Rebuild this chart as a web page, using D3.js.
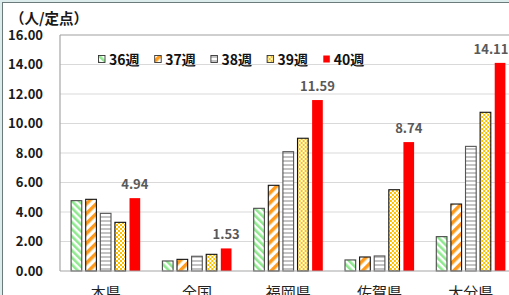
<!DOCTYPE html>
<html><head><meta charset="utf-8">
<script src="https://cdn.jsdelivr.net/npm/d3@7"></script>
<style>
html,body{margin:0;padding:0;background:#dcecec;}
svg{display:block;}
</style></head>
<body>
<svg id="c" width="509" height="295"></svg>
<script>
const categories = ["本県","全国","福岡県","佐賀県","大分県"];
const seriesNames = ["36週","37週","38週","39週","40週"];
const s36 = [4.77, 0.68, 4.25, 0.75, 2.33];
const s37 = [4.86, 0.79, 5.81, 0.95, 4.54];
const s38 = [3.91, 1.00, 8.09, 1.02, 8.45];
const s39 = [3.30, 1.13, 9.00, 5.51, 10.76];
const s40 = [4.94, 1.53, 11.59, 8.74, 14.11];
const yTicks = [0,2,4,6,8,10,12,14,16];
const yUnit = "（人/定点）";

const seriesValues = [s36, s37, s38, s39, s40];
const svg = d3.select("#c");
const W = 509, H = 295;
const font = "'Noto Sans CJK JP','Noto Sans',sans-serif";

// background / chart border
svg.append("rect").attr("x",2.5).attr("y",2.5).attr("width",W).attr("height",H)
  .attr("fill","#fff").attr("stroke","#6b7b7b").attr("stroke-width",1);

const defs = svg.append("defs");
// green diagonal stripes
let p = defs.append("pattern").attr("id","p36").attr("patternUnits","userSpaceOnUse")
  .attr("width",5).attr("height",5).attr("patternTransform","rotate(-45)");
p.append("rect").attr("width",5).attr("height",5).attr("fill","#fff");
p.append("rect").attr("width",2.6).attr("height",5).attr("fill","#8fe88f");
// orange diagonal stripes
p = defs.append("pattern").attr("id","p37").attr("patternUnits","userSpaceOnUse")
  .attr("width",7).attr("height",7).attr("patternTransform","rotate(45)");
p.append("rect").attr("width",7).attr("height",7).attr("fill","#fff");
p.append("rect").attr("width",3.5).attr("height",7).attr("fill","#ff9a1a");
// grey horizontal stripes
p = defs.append("pattern").attr("id","p38").attr("patternUnits","userSpaceOnUse")
  .attr("width",4).attr("height",4);
p.append("rect").attr("width",4).attr("height",4).attr("fill","#fff");
p.append("rect").attr("width",4).attr("height",2).attr("fill","#c4c4c4");
// yellow checker
p = defs.append("pattern").attr("id","p39").attr("patternUnits","userSpaceOnUse")
  .attr("width",4).attr("height",4);
p.append("rect").attr("width",4).attr("height",4).attr("fill","#fff");
p.append("rect").attr("width",2).attr("height",2).attr("fill","#ffc000");
p.append("rect").attr("x",2).attr("y",2).attr("width",2).attr("height",2).attr("fill","#ffc000");

const fills = ["url(#p36)","url(#p37)","url(#p38)","url(#p39)","#ff0000"];
const strokes = ["#4a4a4a","#111","#555","#111","none"];

const plotL = 60, plotR = 516.5, plotT = 35, plotB = 271;
const x0 = d3.scaleBand().domain(categories).range([plotL, plotR]).padding(0);
const x1 = d3.scaleBand().domain(seriesNames).range([10.6, 80.7]).paddingInner(0.2).paddingOuter(0);
const y = d3.scaleLinear().domain([0,16]).range([plotB, plotT]);

// gridlines
svg.append("g").selectAll("line").data(yTicks.filter(t=>t>0 && t<16)).join("line")
  .attr("x1",plotL).attr("x2",plotR).attr("y1",d=>y(d)).attr("y2",d=>y(d))
  .attr("stroke","#d9d9d9").attr("stroke-width",1.2);
// plot top border
svg.append("line").attr("x1",plotL).attr("x2",plotR).attr("y1",y(16)).attr("y2",y(16))
  .attr("stroke","#a0a0a0").attr("stroke-width",1.2);

// y axis labels
const yAxis = d3.axisLeft(y).tickValues(yTicks).tickFormat(d3.format(".2f")).tickSize(0).tickPadding(17);
const ga = svg.append("g").attr("transform",`translate(${plotL},0)`).call(yAxis);
ga.select(".domain").remove();
ga.selectAll("text").attr("font-family",font).attr("font-weight","bold")
  .attr("font-size",13).attr("fill","#1a1a1a");

// bars
const groups = svg.append("g").selectAll("g").data(categories).join("g")
  .attr("transform",d=>`translate(${x0(d)},0)`);
groups.selectAll("rect").data((c,i)=>seriesNames.map((s,j)=>({s, j, v: seriesValues[j][i]})))
  .join("rect")
  .attr("x",d=>x1(d.s)+0.5).attr("y",d=>y(d.v))
  .attr("width",x1.bandwidth()-1).attr("height",d=>plotB-y(d.v))
  .attr("fill",d=>fills[d.j]).attr("stroke",d=>strokes[d.j]).attr("stroke-width",1.1);

// axis lines
svg.append("line").attr("x1",plotL).attr("x2",plotR).attr("y1",plotB).attr("y2",plotB)
  .attr("stroke","#a6a6a6").attr("stroke-width",1.2);
svg.append("line").attr("x1",plotL).attr("x2",plotL).attr("y1",plotT).attr("y2",plotB)
  .attr("stroke","#a6a6a6").attr("stroke-width",1.2);

// data labels for 40週
svg.append("g").selectAll("text").data(categories).join("text")
  .attr("x",(c,i)=>Math.min(x0(c)+x1("40週")+x1.bandwidth()/2, 491))
  .attr("y",(c,i)=>y(s40[i])-9)
  .attr("text-anchor","middle").attr("font-family",font).attr("font-weight","bold")
  .attr("font-size",13).attr("fill","#595959")
  .text((c,i)=>s40[i].toFixed(2));

// category labels
svg.append("g").selectAll("text").data(categories).join("text")
  .attr("x",c=>x0(c)+x0.bandwidth()/2).attr("y",298)
  .attr("text-anchor","middle").attr("font-family",font)
  .attr("font-size",15).attr("fill","#222").text(c=>c);

// unit label
svg.append("text").attr("x",10).attr("y",23.5).attr("font-family",font).attr("font-weight","bold")
  .attr("font-size",14.5).attr("fill","#1a1a1a").text(yUnit);

// legend
const lg = svg.append("g").attr("transform","translate(98,0)");
const li = lg.selectAll("g").data(seriesNames).join("g")
  .attr("transform",(d,i)=>`translate(${i*56.2},0)`);
li.append("rect").attr("x",0.5).attr("y",55.5).attr("width",6.5).attr("height",7)
  .attr("fill",(d,i)=>fills[i]).attr("stroke",(d,i)=>i===4?"none":"#333").attr("stroke-width",0.9);
li.append("text").attr("x",11).attr("y",64.5).attr("font-family",font).attr("font-weight","bold")
  .attr("font-size",14).attr("fill","#111").text(d=>d);
</script>
</body></html>
